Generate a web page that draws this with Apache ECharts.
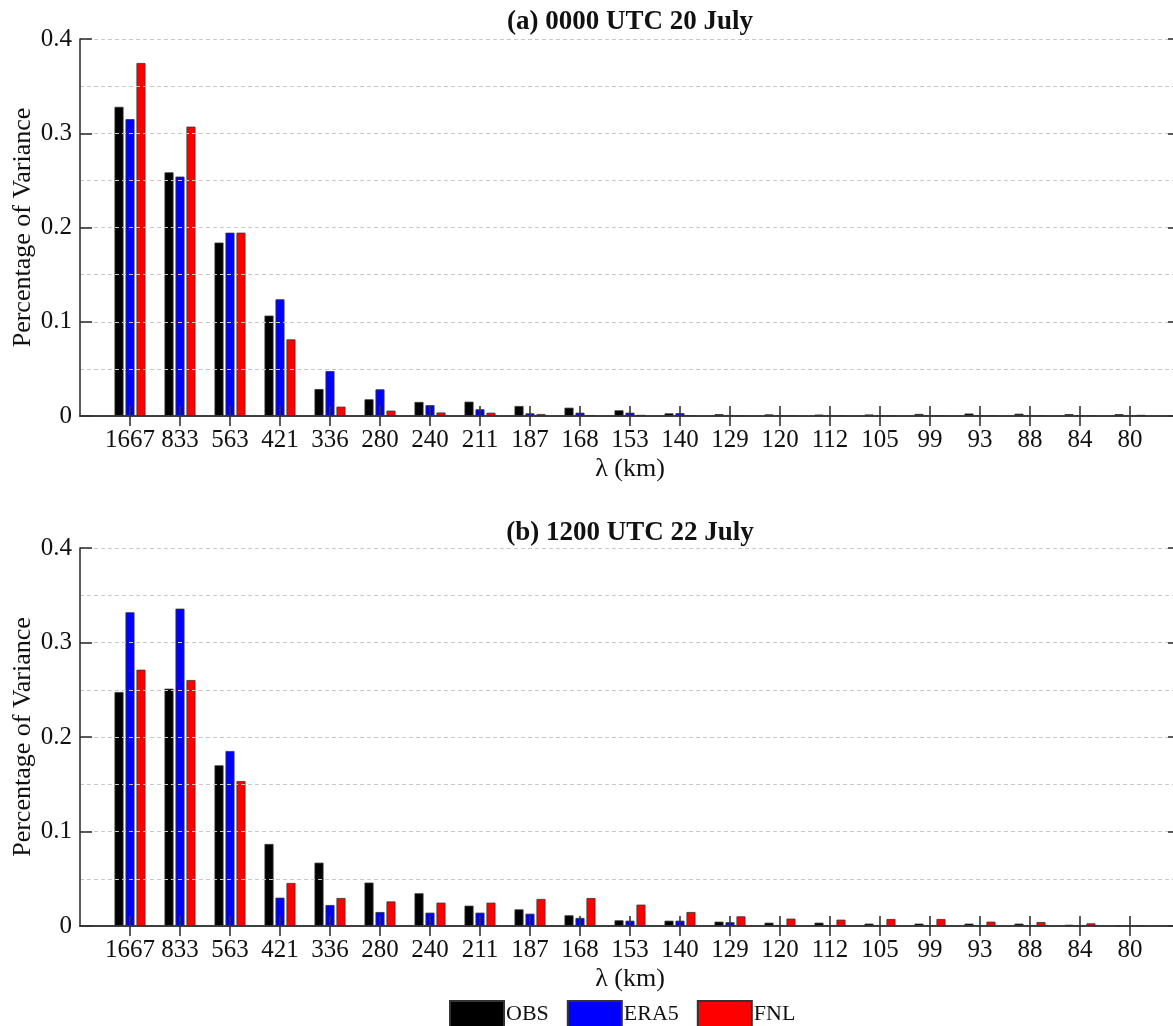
<!DOCTYPE html>
<html>
<head>
<meta charset="utf-8">
<script src="https://cdn.jsdelivr.net/npm/echarts@6/dist/echarts.min.js"></script>
<style>
html,body{margin:0;padding:0;background:#fff;}
#chart{width:1173px;height:1026px;}
</style>
</head>
<body>
<div id="chart"></div>
<script>
const categories = ['1667','833','563','421','336','280','240','211','187','168','153','140','129','120','112','105','99','93','88','84','80'];
const yTicks = [0, 0.1, 0.2, 0.3, 0.4];
const titleA = '(a) 0000 UTC 20 July';
const titleB = '(b) 1200 UTC 22 July';
const seriesNames = ['OBS', 'ERA5', 'FNL'];

const obsA  = [0.328, 0.2585, 0.184, 0.1065, 0.0286, 0.0177, 0.0149, 0.0152, 0.0106, 0.0088, 0.006, 0.0028, 0.002, 0.0017, 0.0015, 0.0016, 0.0022, 0.0026, 0.0024, 0.002, 0.002];
const era5A = [0.315, 0.254, 0.1945, 0.1238, 0.0477, 0.0283, 0.0115, 0.0071, 0.0028, 0.0035, 0.0035, 0.003, 0.001, 0.0005, 0.0004, 0.0004, 0.0004, 0.0005, 0.0004, 0.0004, 0.0004];
const fnlA  = [0.3745, 0.307, 0.1945, 0.0813, 0.0099, 0.0057, 0.0037, 0.0035, 0.0021, 0.001, 0.0012, 0.0008, 0.0005, 0.0005, 0.0004, 0.0004, 0.0008, 0.0008, 0.0008, 0.0008, 0.0012];

const obsB  = [0.2476, 0.2511, 0.170, 0.0868, 0.067, 0.0459, 0.0346, 0.0215, 0.0176, 0.0113, 0.006, 0.0056, 0.0046, 0.0035, 0.0035, 0.0025, 0.0025, 0.0025, 0.0025, 0.0013, 0.0008];
const era5B = [0.332, 0.3358, 0.1852, 0.030, 0.0222, 0.0148, 0.0141, 0.0141, 0.013, 0.0085, 0.0056, 0.0056, 0.004, 0.001, 0.0005, 0.0004, 0.0004, 0.0004, 0.0004, 0.0003, 0.0003];
const fnlB  = [0.2712, 0.2603, 0.1534, 0.0455, 0.0296, 0.026, 0.0247, 0.0247, 0.0286, 0.0296, 0.0226, 0.0148, 0.0102, 0.0078, 0.0067, 0.0074, 0.0074, 0.0046, 0.0042, 0.0028, 0.0003];

const colors = ['#000000', '#0000ff', '#ff0000'];
const FONT = "'Liberation Serif', 'Times New Roman', serif";
const AXIS_COLOR = '#333333';

// pad categories so the axis spans [0, 22] like the original figure
const padCats = [''].concat(categories, ['']);
const pad = arr => ['-'].concat(arr, ['-']);
const innerTick = (idx) => idx > 0 && idx < padCats.length - 1;

const yMin = yTicks[0], yMax = yTicks[yTicks.length - 1];
const yInterval = yTicks[1] - yTicks[0];

const chart = echarts.init(document.getElementById('chart'), null, {renderer: 'canvas'});

const grids = [
  {left: 80, top: 39, width: 1100, height: 377, containLabel: false, outerBoundsMode: 'none'},
  {left: 80, top: 548, width: 1100, height: 378, containLabel: false, outerBoundsMode: 'none'}
];

function xAxes(gi) {
  return [
    {
      type: 'category', gridIndex: gi, data: padCats, boundaryGap: false, position: 'bottom', z: 5,
      axisLine: {show: true, lineStyle: {color: AXIS_COLOR, width: 1.6}},
      axisTick: {show: true, inside: true, length: 10, interval: innerTick, lineStyle: {color: AXIS_COLOR, width: 1.6}},
      axisLabel: {show: true, interval: 0, margin: 12, color: '#111', fontSize: 25, fontFamily: FONT},
      splitLine: {show: false},
      name: 'λ (km)', nameLocation: 'middle', nameGap: 40, nameMoveOverlap: false,
      nameTextStyle: {color: '#111', fontSize: 26, fontFamily: FONT}
    },
    {
      type: 'category', gridIndex: gi, data: padCats, boundaryGap: false, position: 'top', z: 5,
      axisLine: {show: true, lineStyle: {color: AXIS_COLOR, width: 1.6}},
      axisTick: {show: true, inside: true, length: 10, interval: innerTick, lineStyle: {color: AXIS_COLOR, width: 1.6}},
      axisLabel: {show: false},
      splitLine: {show: false}
    }
  ];
}

function yAxes(gi) {
  return [
    {
      type: 'value', gridIndex: gi, min: yMin, max: yMax, interval: yInterval, position: 'left', z: 5,
      axisLine: {show: true, lineStyle: {color: AXIS_COLOR, width: 1.6}},
      axisTick: {show: true, inside: true, length: 12, lineStyle: {color: AXIS_COLOR, width: 1.6}},
      axisLabel: {show: true, margin: 8, color: '#111', fontSize: 25, fontFamily: FONT},
      splitLine: {show: true, lineStyle: {color: '#c8c8c8', width: 1, type: [4, 3]}},
      minorTick: {show: false, splitNumber: 2},
      minorSplitLine: {show: true, lineStyle: {color: '#c8c8c8', width: 1, type: [4, 3]}},
      name: 'Percentage of Variance', nameLocation: 'middle', nameGap: 44, nameRotate: 90,
      nameMoveOverlap: false,
      nameTextStyle: {color: '#111', fontSize: 26, fontFamily: FONT}
    },
    {
      type: 'value', gridIndex: gi, min: yMin, max: yMax, interval: yInterval, position: 'right', z: 5,
      axisLine: {show: true, lineStyle: {color: AXIS_COLOR, width: 1.6}},
      axisTick: {show: true, inside: true, length: 12, lineStyle: {color: AXIS_COLOR, width: 1.6}},
      axisLabel: {show: false},
      splitLine: {show: false}
    }
  ];
}

function barSeries(name, data, color, gi) {
  return {
    name: name, type: 'bar', xAxisIndex: gi * 2, yAxisIndex: gi * 2,
    data: pad(data), barWidth: 9, barGap: '22%',
    itemStyle: {color: color, borderColor: '#333', borderWidth: 0.8},
    emphasis: {disabled: true}, animation: false
  };
}

const dataA = [obsA, era5A, fnlA];
const dataB = [obsB, era5B, fnlB];
const series = [];
seriesNames.forEach((n, i) => series.push(barSeries(n, dataA[i], colors[i], 0)));
seriesNames.forEach((n, i) => series.push(barSeries(n, dataB[i], colors[i], 1)));

const option = {
  backgroundColor: '#fff',
  animation: false,
  title: [
    {text: titleA, left: 630, top: 9, padding: 0, textAlign: 'center',
     textStyle: {fontFamily: FONT, fontSize: 27, fontWeight: 'bold', color: '#111'}},
    {text: titleB, left: 630, top: 520, padding: 0, textAlign: 'center',
     textStyle: {fontFamily: FONT, fontSize: 27, fontWeight: 'bold', color: '#111'}}
  ],
  legend: {
    data: seriesNames, left: 449, top: 1000, padding: 0,
    itemWidth: 54, itemHeight: 26, itemGap: 18, icon: 'rect',
    textStyle: {fontFamily: FONT, fontSize: 22, color: '#111', padding: [0, 0, 0, -3]}
  },
  grid: grids,
  xAxis: xAxes(0).concat(xAxes(1)),
  yAxis: yAxes(0).concat(yAxes(1)),
  series: series
};
chart.setOption(option);
</script>
</body>
</html>
